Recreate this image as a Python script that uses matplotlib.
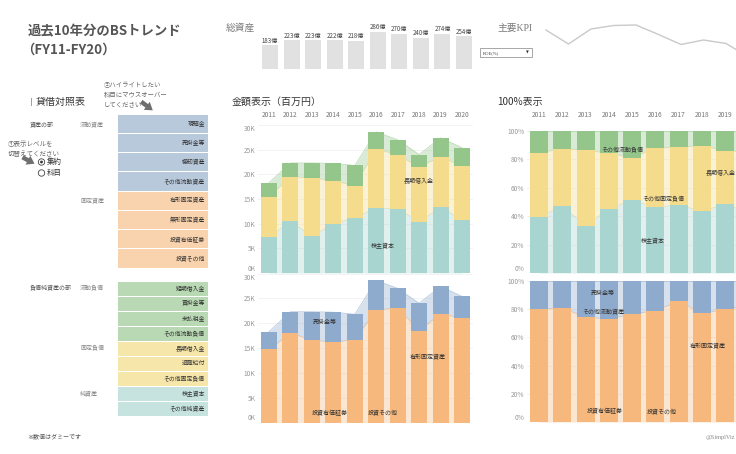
import numpy as np
import matplotlib
matplotlib.use('Agg')
import matplotlib.pyplot as plt
from matplotlib.patches import Rectangle, Circle

plt.rcParams['font.family'] = ['Noto Sans CJK JP', 'DejaVu Sans']

W, H = 736, 454

years = ['2011', '2012', '2013', '2014', '2015', '2016', '2017', '2018', '2019', '2020']
total_oku = [183, 223, 223, 222, 218, 286, 270, 240, 274, 254]
roe = [8.0, 5.2, 8.2, 8.9, 9.0, 7.1, 5.1, 6.0, 5.3, 2.6]

# 負債・純資産（百万円）
equity = [7200, 10500, 7400, 10000, 11200, 13200, 13000, 10400, 13300, 10800]
fixed_liab = [8300, 9000, 11900, 8700, 6500, 12000, 10900, 11100, 10300, 10800]
current_liab = [2800, 2800, 3000, 3500, 4100, 3400, 3100, 2500, 3800, 3800]

# 資産（百万円）
fixed_assets = [14700, 18000, 16600, 16200, 16700, 22600, 23100, 18500, 21900, 21000]
current_assets = [3600, 4300, 5700, 6000, 5100, 6000, 3900, 5500, 5500, 4400]

asset_items = ['現預金', '売掛金等', '棚卸資産', 'その他流動資産',
               '有形固定資産', '無形固定資産', '投資有価証券', '投資その他']
liab_items = ['短期借入金', '買掛金等', '未払税金', 'その他流動負債',
              '長期借入金', '退職給付', 'その他固定負債', '株主資本', 'その他純資産']

c_teal, c_yel, c_grn = '#a9d5d1', '#f5dc8c', '#94c68c'
c_blue, c_org = '#8eaacc', '#f6b87c'
t_blue, t_org, t_grn, t_yel, t_teal = '#b9c9dc', '#f9d3ad', '#b9d9b4', '#f7e6aa', '#c7e3e0'


def rect(x0, y0, x1, y1):
    return [x0 / W, 1 - y1 / H, (x1 - x0) / W, (y1 - y0) / H]


def T(x, y, s, **kw):
    kw.setdefault('va', 'center')
    return fig.text(x / W, 1 - y / H, s, **kw)


fig = plt.figure(figsize=(W / 100, H / 100), dpi=100)
bg = fig.add_axes([0, 0, 1, 1])
bg.set_xlim(0, W)
bg.set_ylim(H, 0)
bg.axis('off')

# タイトル
T(28, 31, '過去10年分のBSトレンド', fontsize=9.6, fontweight='bold', color='#555555')
T(21, 50, '（FY11-FY20）', fontsize=9.6, fontweight='bold', color='#555555')

# 総資産ミニ棒グラフ
T(226, 28, '総資産', fontsize=7, color='#7a7a7a')
axt = fig.add_axes(rect(259.2, 26.3, 474.8, 69))
xx = np.arange(len(years))
axt.bar(xx, total_oku, 0.74, color='#e1e1e1', lw=0)
for i, v in enumerate(total_oku):
    axt.text(i, v + 5, f'{v}億', ha='center', va='bottom', fontsize=4.4, color='#444444')
axt.set_xlim(-0.5, 9.5)
axt.set_ylim(0, 330)
axt.axis('off')

# 主要KPI
T(497, 28, '主要KPI', fontsize=7, color='#7a7a7a', family=['Liberation Serif', 'Noto Sans CJK JP'])
bg.add_patch(Rectangle((480, 48), 52, 9, fc='white', ec='#999999', lw=0.6))
T(483, 52.7, 'ROE(%)', fontsize=3.3, color='#444444', family='Liberation Serif')
T(527, 52.7, '▼', fontsize=2.6, color='#333333', ha='center', family='DejaVu Sans')
axk = fig.add_axes(rect(534.7, 10, 759.8, 70))
axk.plot(xx, roe, color='#c9c9c9', lw=1)
axk.set_xlim(-0.5, 9.5)
axk.set_ylim(0, 12)
axk.axis('off')

# 貸借対照表
bg.add_patch(Rectangle((30.5, 98), 1.6, 8, color='#f28e2b', lw=0))
T(36, 102, '貸借対照表', fontsize=7.2, color='#333333')
T(104, 81, '②ハイライトしたい\n科目にマウスオーバー\nしてください', fontsize=4.6, color='#666666',
  va='top', linespacing=1.3)
bg.annotate('', xy=(155, 112), xytext=(139, 100),
            arrowprops=dict(arrowstyle='simple,head_length=0.6,head_width=0.8,tail_width=0.35',
                            color='#6f6f6f', mutation_scale=9, lw=0))

T(30, 124, '資産の部', fontsize=4.3, color='#555555')
T(80, 124, '流動資産', fontsize=4.3, color='#888888')
T(80, 200, '固定資産', fontsize=4.3, color='#888888')
rh = 19.25
for i, name in enumerate(asset_items):
    y = 114 + i * rh
    bg.add_patch(Rectangle((118, y + 0.5), 90, rh - 1, fc=t_blue if i < 4 else t_org, lw=0))
    T(205, y + rh / 2, name, fontsize=4.2, color='#333333', ha='right')

T(8, 140, '①表示レベルを\n切替えてください', fontsize=4.7, color='#666666',
  va='top', linespacing=1.3)
bg.annotate('', xy=(37, 165), xytext=(20, 156),
            arrowprops=dict(arrowstyle='simple,head_length=0.6,head_width=0.8,tail_width=0.35',
                            color='#6f6f6f', mutation_scale=9, lw=0))
bg.add_patch(Circle((41.5, 162), 3.2, fc='white', ec='#444444', lw=0.6))
bg.add_patch(Circle((41.5, 162), 1.4, fc='#333333', lw=0))
bg.add_patch(Circle((41.5, 173), 3.2, fc='white', ec='#444444', lw=0.6))
T(47, 162, '集約', fontsize=5.4, color='#333333')
T(47, 173, '科目', fontsize=5.4, color='#333333')

T(30, 288, '負債純資産の部', fontsize=4.3, color='#555555')
T(80, 288, '流動負債', fontsize=4.3, color='#888888')
T(80, 348, '固定負債', fontsize=4.3, color='#888888')
T(80, 393, '純資産', fontsize=4.3, color='#888888')
rh2 = 15
for i, name in enumerate(liab_items):
    y = 281 + i * rh2
    fc = t_grn if i < 4 else (t_yel if i < 7 else t_teal)
    bg.add_patch(Rectangle((118, y + 0.5), 90, rh2 - 1, fc=fc, lw=0))
    T(205, y + rh2 / 2, name, fontsize=4.2, color='#333333', ha='right')

T(27, 436, '※数値はダミーです', fontsize=4.3, color='#555555')
T(735, 437, '@SimplViz', fontsize=4.5, color='#888888', ha='right', family='Liberation Serif')

T(232, 102, '金額表示（百万円）', fontsize=7.2, color='#333333')
T(497, 102, '100%表示', fontsize=7.2, color='#333333')


def stack_chart(r, layers, colors, ymax, ticks, labels, width, top_pad=None,
                top_in=False, n_years=10):
    ax = fig.add_axes(r)
    ax.patch.set_alpha(0)
    x = np.arange(len(years))
    bottom = np.zeros(len(years))
    for vals, c in zip(layers, colors):
        v = np.asarray(vals, dtype=float)
        ax.fill_between(x, bottom, bottom + v, color=c, alpha=0.35, lw=0, zorder=1)
        ax.plot(x, bottom + v, color=c, lw=0.6, alpha=0.6, zorder=1)
        ax.bar(x, v, width, bottom=bottom, color=c, lw=0, zorder=2)
        bottom += v
    ax.set_xlim(-0.5, 9.5)
    ax.set_ylim(0, ymax)
    ax.set_yticks(ticks)
    tl = ax.set_yticklabels(labels)
    tl[0].set_va('bottom')
    if top_in:
        tl[-1].set_va('top')
    ax.grid(axis='y', color='#eeeeee', lw=0.5, zorder=0)
    ax.set_axisbelow(True)
    for s in ax.spines.values():
        s.set_visible(False)
    ax.tick_params(axis='y', length=0, labelsize=4.8, labelcolor='#999999', pad=2)
    if top_pad is None:
        ax.set_xticks([])
    else:
        ax.xaxis.tick_top()
        ax.set_xticks(x[:n_years])
        ax.set_xticklabels(years[:n_years])
        ax.tick_params(axis='x', length=0, labelsize=4.8, labelcolor='#777777', pad=top_pad)
    return ax


kt = [0, 5000, 10000, 15000, 20000, 25000, 30000]
kl = ['0K', '5K', '10K', '15K', '20K', '25K', '30K']
pt = [0, 0.2, 0.4, 0.6, 0.8, 1.0]
pl = ['0%', '20%', '40%', '60%', '80%', '100%']

lab = dict(fontsize=4.3, color='#333333', ha='center', va='center', zorder=5)

a1 = stack_chart(rect(258.3, 125, 472.7, 273), [equity, fixed_liab, current_liab],
                 [c_teal, c_yel, c_grn], 30000, kt, kl, 0.75, top_pad=4, top_in=True)
a1.text(7.0, 18600, '長期借入金', **lab)
a1.text(5.33, 5700, '株主資本', **lab)

a2 = stack_chart(rect(258.3, 273.5, 472.7, 422.5), [fixed_assets, current_assets],
                 [c_org, c_blue], 30000, kt, kl, 0.75, top_in=True)
a2.text(2.6, 20200, '売掛金等', **lab)
a2.text(7.4, 13200, '有形固定資産', **lab)
a2.text(2.85, 1900, '投資有価証券', **lab)
a2.text(5.3, 2100, '投資その他', **lab)

liab_tot = np.array(equity) + np.array(fixed_liab) + np.array(current_liab)
asset_tot = np.array(fixed_assets) + np.array(current_assets)

a3 = stack_chart(rect(527.4, 131, 760, 273),
                 [np.array(equity) / liab_tot, np.array(fixed_liab) / liab_tot,
                  np.array(current_liab) / liab_tot],
                 [c_teal, c_yel, c_grn], 1.0, pt, pl, 0.77, top_pad=8.5, n_years=9)
a3.text(3.6, 0.866, 'その他流動負債', **lab)
a3.text(7.8, 0.704, '長期借入金', **lab)
a3.text(5.33, 0.52, 'その他固定負債', **lab)
a3.text(4.9, 0.23, '株主資本', **lab)

a4 = stack_chart(rect(527.4, 281, 760, 422),
                 [np.array(fixed_assets) / asset_tot, np.array(current_assets) / asset_tot],
                 [c_org, c_blue], 1.0, pt, pl, 0.77)
a4.text(2.75, 0.915, '売掛金等', **lab)
a4.text(2.75, 0.787, 'その他流動資産', **lab)
a4.text(7.27, 0.54, '有形固定資産', **lab)
a4.text(2.84, 0.078, '投資有価証券', **lab)
a4.text(5.3, 0.078, '投資その他', **lab)

plt.savefig('out.png', dpi=100)
